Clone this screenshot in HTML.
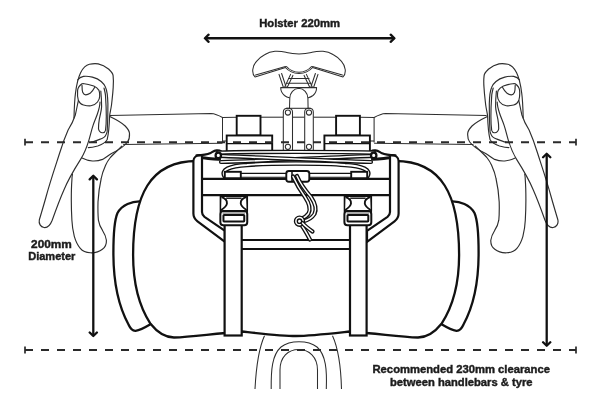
<!DOCTYPE html>
<html><head><meta charset="utf-8"><title>Holster</title>
<style>html,body{margin:0;padding:0;background:#fff;width:600px;height:408px;overflow:hidden}svg{display:block}text{font-family:"Liberation Sans",sans-serif}</style>
</head><body><svg width="600" height="408" viewBox="0 0 600 408"><g fill="none" stroke="#2e2e2e" stroke-width="1.15" stroke-linecap="round" stroke-linejoin="round"><path d="M74 118 C74.2 110 74.5 100 75.5 93 C76.5 85 78 78 80.6 72.7 C83 68 86 65 89.4 64.3 C93 63.5 96 63.5 98.2 63.9 C103 65 106 67 108.5 69 C111 71.5 112.8 73 113.1 75.6 C113.6 80 113.4 85 113.2 87.4 C112.8 95 112 100 111.5 105 C110.8 110 109.8 113 109.6 116.2 C109.3 126 108.5 134 107.1 139.8 C105 143 101 145 97.7 146 C94 147 91 147.6 88.3 147.6"/><path d="M77.6 80 C79 78 81 76.8 83.5 76.4 C86 76 89 76.3 92.4 77.1 C96 78 99 79.5 101.2 81.5 C103.5 83.5 105 85.5 105.6 87.4 C106.8 90 107.7 96 107.9 103.7 C107.9 113 107.6 125 107.1 131.9 C106 136 104.5 137.5 102.4 138.2 C99 139.5 95 141.5 91.4 142.1"/><path d="M82 83.7 C79.5 85.5 77.8 88 77.6 90.4 C77.3 94 77.6 98 78.4 100.6 C79.5 103 81 104.5 83.5 105 C86 105.6 88.5 106 90.9 105.8 C93.5 105.3 96 104 97.5 102 C99 100 99.7 98 99.7 96.2 C99.8 93.5 99.5 91.5 99 90.4 C97.5 88 96 87 93.8 86 C90 84.8 87 84 84.3 83.7 C83.5 83.6 82.7 83.6 82 83.7 Z"/><path d="M82 85.2 C82 88 82.2 91 82.8 92.6 C83.5 94 84.5 94.8 85.7 94.8 C87.5 94.8 89 94 90.1 93.3 C92 91.5 93.5 89.5 94.6 87.4"/><path d="M78.4 100.6 C77.3 105 76.5 110 75.3 115 C73.5 120.5 71 125.5 68.1 130 C65 137 62.3 144.5 60 152 C55.5 166 50 182 46 197 C43.5 206 41 214 39.3 220 C38.6 223.5 40.5 227 44 227.5 C47.5 228 50.5 224.5 52.2 220.2 C55.5 211 59.5 200 63.9 190 C68.5 179 74.5 169 80.6 159.4 C84.5 153 87 146.5 89 139.8 C90.5 135 91.5 130 93 125.6 C94.5 121 96.5 117 97.7 113 C99 109 100 105.5 100 102"/><path d="M104 88 C105 92 105.5 94 105.5 95.8 C106 103 106.3 110 106.3 116.2 C106.3 122 106 127 105.5 130.4 C105 132 104 133 102.4 132.7 C100.5 132.5 99 131 98.5 128.8 C98.5 125 98.8 122 99.3 119.4 C100.5 113 101.6 110 101.6 106.8 C101.6 100 101.2 95 100.8 91"/><path d="M109.8 116.5 C115 119 121 122 125.2 126 C128 129 129.5 131 129.5 133.5 C129.7 137 129 140 127.5 142 C124 146.5 118 150.5 111.5 153.5 C108 155.5 105.5 158 102.6 159.4 C99 160.8 95.5 161.2 92.4 161 C88.5 160.6 85 159.5 82 158"/><path d="M121.8 146.2 C117 151 112.5 155 110 158 C108 160.5 106.8 162.5 105.6 165.3 C103.5 170 102 174 101.2 178.5 C99.5 186 98.5 193 98 202 C97.8 210 98 216 98.4 220.2 C99.2 225 100.5 227.5 102.4 230.2 C104.5 233.5 106 236.5 106.4 240.3 C106.6 244.5 105 247.5 102.4 249.3 C99 252 94.5 253 90.4 252.8 C86 252.5 82.5 251 80.3 248.3 C77 244.5 75.5 240.5 74.3 236.3 C72.8 230 72.1 225 71.9 220.2 C71.5 213 71.3 206 71.3 200.1 C71.3 192 71.5 185 71.9 180 C72 177 72.2 175.5 72.5 174"/></g><g fill="none" stroke="#2e2e2e" stroke-width="1.15" stroke-linecap="round" stroke-linejoin="round"><path d="M 523.2 118 C 523 110 522.7 100 521.7 93 C 520.7 85 519.2 78 516.6 72.7 C 514.2 68 511.2 65 507.8 64.3 C 504.2 63.5 501.2 63.5 499 63.9 C 494.2 65 491.2 67 488.7 69 C 486.2 71.5 484.4 73 484.1 75.6 C 483.6 80 483.8 85 484 87.4 C 484.4 95 485.2 100 485.7 105 C 486.4 110 487.4 113 487.6 116.2 C 487.9 126 488.7 134 490.1 139.8 C 492.2 143 496.2 145 499.5 146 C 503.2 147 506.2 147.6 508.9 147.6"/><path d="M 519.6 80 C 518.2 78 516.2 76.8 513.7 76.4 C 511.2 76 508.2 76.3 504.8 77.1 C 501.2 78 498.2 79.5 496 81.5 C 493.7 83.5 492.2 85.5 491.6 87.4 C 490.4 90 489.5 96 489.3 103.7 C 489.3 113 489.6 125 490.1 131.9 C 491.2 136 492.7 137.5 494.8 138.2 C 498.2 139.5 502.2 141.5 505.8 142.1"/><path d="M 515.2 83.7 C 517.7 85.5 519.4 88 519.6 90.4 C 519.9 94 519.6 98 518.8 100.6 C 517.7 103 516.2 104.5 513.7 105 C 511.2 105.6 508.7 106 506.3 105.8 C 503.7 105.3 501.2 104 499.7 102 C 498.2 100 497.5 98 497.5 96.2 C 497.4 93.5 497.7 91.5 498.2 90.4 C 499.7 88 501.2 87 503.4 86 C 507.2 84.8 510.2 84 512.9 83.7 C 513.7 83.6 514.5 83.6 515.2 83.7 Z"/><path d="M 515.2 85.2 C 515.2 88 515 91 514.4 92.6 C 513.7 94 512.7 94.8 511.5 94.8 C 509.7 94.8 508.2 94 507.1 93.3 C 505.2 91.5 503.7 89.5 502.6 87.4"/><path d="M 518.8 100.6 C 519.9 105 520.7 110 521.9 115 C 523.7 120.5 526.2 125.5 529.1 130 C 532.2 137 534.9 144.5 537.2 152 C 541.7 166 547.2 182 551.2 197 C 553.7 206 556.2 214 557.9 220 C 558.6 223.5 556.7 227 553.2 227.5 C 549.7 228 546.7 224.5 545 220.2 C 541.7 211 537.7 200 533.3 190 C 528.7 179 522.7 169 516.6 159.4 C 512.7 153 510.2 146.5 508.2 139.8 C 506.7 135 505.7 130 504.2 125.6 C 502.7 121 500.7 117 499.5 113 C 498.2 109 497.2 105.5 497.2 102"/><path d="M 493.2 88 C 492.2 92 491.7 94 491.7 95.8 C 491.2 103 490.9 110 490.9 116.2 C 490.9 122 491.2 127 491.7 130.4 C 492.2 132 493.2 133 494.8 132.7 C 496.7 132.5 498.2 131 498.7 128.8 C 498.7 125 498.4 122 497.9 119.4 C 496.7 113 495.6 110 495.6 106.8 C 495.6 100 496 95 496.4 91"/><path d="M 487.4 116.5 C 482.2 119 476.2 122 472 126 C 469.2 129 467.7 131 467.7 133.5 C 467.5 137 468.2 140 469.7 142 C 473.2 146.5 479.2 150.5 485.7 153.5 C 489.2 155.5 491.7 158 494.6 159.4 C 498.2 160.8 501.7 161.2 504.8 161 C 508.7 160.6 512.2 159.5 515.2 158"/><path d="M 475.4 146.2 C 480.2 151 484.7 155 487.2 158 C 489.2 160.5 490.4 162.5 491.6 165.3 C 493.7 170 495.2 174 496 178.5 C 497.7 186 498.7 193 499.2 202 C 499.4 210 499.2 216 498.8 220.2 C 498 225 496.7 227.5 494.8 230.2 C 492.7 233.5 491.2 236.5 490.8 240.3 C 490.6 244.5 492.2 247.5 494.8 249.3 C 498.2 252 502.7 253 506.8 252.8 C 511.2 252.5 514.7 251 516.9 248.3 C 520.2 244.5 521.7 240.5 522.9 236.3 C 524.4 230 525.1 225 525.3 220.2 C 525.7 213 525.9 206 525.9 200.1 C 525.9 192 525.7 185 525.3 180 C 525.2 177 525 175.5 524.7 174"/></g><g fill="none" stroke="#2e2e2e" stroke-width="1.05"><path d="M110 115.5 L211 113.5 C216 113.8 219 115.5 222.5 117.5 L236.7 117.3"/><path d="M 486.6 115.5 L 385.6 113.5 C 380.6 113.8 377.6 115.5 374.1 117.5 L 359.9 117.3"/><path d="M222.5 117.5 L222.5 142.5"/><path d="M 374.1 117.5 L 374.1 142.5"/><path d="M123.2 144.5 L222.5 143.2"/><path d="M 473.4 144.5 L 374.1 143.2"/><path d="M260.5 117.2 L283.3 117.2"/><path d="M 336.1 117.2 L 313.3 117.2"/><path d="M226.7 141 L222.5 141"/><path d="M 369.9 141 L 374.1 141"/><path d="M292.5 117.2 L304.7 117.2"/></g><g fill="#fff" stroke="#2e2e2e" stroke-width="1.05" stroke-linejoin="round" stroke-linecap="round"><path d="M255 77 C253 75 252.5 72 252.8 69.5 C253.2 66 254.5 63.5 256.5 61.3 C259 58.5 262 56 265 54.5 C268 52.5 271 51.5 275 51.3 C279 51.1 283 51.6 286 52.3 C289 53 292 53.8 299 54 L299.0 54.0 C306.0 53.8 309.0 53.0 312.0 52.3 C315.0 51.6 319.0 51.1 323.0 51.3 C327.0 51.5 330.0 52.5 333.0 54.5 C336.0 56.0 339.0 58.5 341.5 61.3 C343.5 63.5 344.8 66.0 345.2 69.5 C345.5 72.0 345.0 75.0 343.0 77.0 L312.5 67.5 C309.5 71 305.5 73.4 299 73.6 C292.5 73.4 288.5 71 285.5 67.5 Z"/><path d="M255.6 75.1 L285.5 66.6 M342.4 75.1 L312.5 66.6" fill="none"/><path d="M286.5 66.5 C289.5 70 293 72.1 299 72.3 C305 72.1 308.5 70 311.5 66.5" fill="none"/><path d="M279 74.4 L283.6 88" fill="none"/><path d="M 318 74.4 L 313.4 88" fill="none"/><path d="M281.6 73.5 L286.4 87.8" fill="none"/><path d="M 315.4 73.5 L 310.6 87.8" fill="none"/><path d="M290.6 74.4 L284.4 87.6" fill="none"/><path d="M 306.4 74.4 L 312.6 87.6" fill="none"/><path d="M292.9 75.4 L286.8 88.2" fill="none"/><path d="M 304.1 75.4 L 310.2 88.2" fill="none"/><path d="M288.5 78.5 L309 78.5 M286.5 83.2 L311 83.2 M283 87.6 L314 87.6" fill="none"/><path d="M280.7 87.6 L316.6 87.6 C316.6 91 315.5 93.5 313 95.5 C311 97 309.5 97.5 308.3 97.8 L289.3 97.8 C288 97.5 286.5 97 284.5 95.5 C282 93.5 280.7 91 280.7 87.6 Z"/><path d="M289.5 108.5 L289.8 98 C290 93 293.5 88.5 298.9 88.3 C304 88.5 307.6 93 307.9 98 L308.1 108.5"/></g><g fill="#fff" stroke="#2e2e2e" stroke-width="1.05"><path d="M283.3 152 L283.3 112 C283.3 109.5 284.8 108.3 287.9 108.3 C291.0 108.3 292.5 109.5 292.5 112 L292.5 152"/><circle cx="287.9" cy="112.5" r="2.6"/><circle cx="287.9" cy="146.8" r="2.6"/><path d="M304.7 152 L304.7 112 C304.7 109.5 306.2 108.3 309.0 108.3 C311.8 108.3 313.3 109.5 313.3 112 L313.3 152"/><circle cx="309.0" cy="112.5" r="2.6"/><circle cx="309.0" cy="146.8" r="2.6"/><path d="M286 108.3 L310.8 108.3" fill="none"/></g><g fill="#fff" stroke="#111" stroke-width="1.9"><rect x="236.7" y="115.8" width="23.80000000000001" height="19.700000000000003"/><rect x="336.1" y="115.8" width="23.80000000000001" height="19.700000000000003"/><rect x="226.7" y="135.5" width="45.5" height="16.19999999999999"/><rect x="324.40000000000003" y="135.5" width="45.5" height="16.19999999999999"/><path d="M226.7 143.7 L272.2 143.7 M324.4 143.7 L369.9 143.7" fill="none" stroke-width="1.3"/></g><g stroke="#2a2a2a" stroke-width="2" fill="none"><path d="M25 142.2 L576 142.2" stroke-dasharray="8 8"/><path d="M25 138.79999999999998 L25 145.6 M576 138.79999999999998 L576 145.6" stroke-width="1.7"/><path d="M25 350 L576 350" stroke-dasharray="8 8"/><path d="M25 346.6 L25 353.4 M576 346.6 L576 353.4" stroke-width="1.7"/></g><g fill="#fff" stroke="#111" stroke-width="2.3" stroke-linejoin="round" stroke-linecap="round"><path d="M141 201.5 C132 201 122 205 117.5 213 C114 221 113.3 235 113.4 255 C113.6 285 119 307 128.5 324.5 C130.5 329 132.5 331 135.5 330.8 C139.5 330.2 145 327.5 150 324.5"/><path d="M 451 201.5 C 460 201 470 205 474.5 213 C 478 221 478.7 235 478.6 255 C 478.4 285 473 307 463.5 324.5 C 461.5 329 459.5 331 456.5 330.8 C 452.5 330.2 447 327.5 442 324.5"/><path d="M197 161 C150 161 133.1 195 133.1 255 C133.1 283 139.5 307 150.5 323.8 C157 332 164 337.5 174 337.5 C192 337 210 334 242 331.5 C265 334 282 336 296 336 C310 336 327 334 350 331.5 C382 334 400 337 418 337.5 C428 337.5 435 332 441.5 323.8 C452.5 307 459.1 283 459.1 255 C459.1 195 442 161 395 161 Z" stroke="none"/><path d="M197 161 C150 161 133.1 195 133.1 255 C133.1 283 139.5 307 150.5 323.8 C157 332 164 337.5 174 337.5 C192 337 210 334 242 331.5 C265 334 282 336 296 336 C310 336 327 334 350 331.5 C382 334 400 337 418 337.5 C428 337.5 435 332 441.5 323.8 C452.5 307 459.1 283 459.1 255 C459.1 195 442 161 395 161" fill="none"/></g><g fill="#fff" stroke="#111" stroke-width="2.2" stroke-linejoin="round"><path d="M225 241.8 L197.5 221.3 C194.5 219 193.4 217 193.4 213.5 L193.4 161 C193.4 157.5 196.4 155.2 200.4 155.2 L202 155.2 L202 212 C202 214.5 202.8 215.5 204.5 216.8 L225 230.8 Z"/><path d="M 367 241.8 L 394.5 221.3 C 397.5 219 398.6 217 398.6 213.5 L 398.6 161 C 398.6 157.5 395.6 155.2 391.6 155.2 L 390 155.2 L 390 212 C 390 214.5 389.2 215.5 387.5 216.8 L 367 230.8 Z"/></g><g fill="none" stroke="#111" stroke-width="2.2"><path d="M202 178.8 L390 178.8 M202 195.1 L390 195.1"/><path d="M242 240 L350 240 M242 249 L350 249"/></g><g fill="#fff" stroke="#111" stroke-width="2.2"><rect x="224.6" y="222" width="17.1" height="113.5"/><rect x="350" y="222" width="16.6" height="113.5"/></g><g fill="#fff" stroke="#111" stroke-width="2" stroke-linejoin="round"><path d="M220.65 196 L247.04999999999998 196 L247.04999999999998 211.6 L220.65 211.6 Z"/><path d="M221.65 197.2 C225.65 198.5 227.15 201 226.95000000000002 203.5 C226.65 206 224.15 208 221.15 210" fill="#fff" stroke-width="1.9"/><path d="M 246.05 197.2 C 242.05 198.5 240.55 201 240.75 203.5 C 241.05 206 243.55 208 246.55 210" fill="#fff" stroke-width="1.9"/><path d="M226.15 198.2 L241.54999999999998 198.2" stroke-width="1.4"/><rect x="220.35" y="210.9" width="26.9" height="14.4" rx="3"/><path d="M222.65 213 L245.04999999999998 213" stroke-width="1" stroke="#555"/><rect x="223.45" y="215" width="20.8" height="6.4" rx="0.6"/></g><g fill="#fff" stroke="#111" stroke-width="2" stroke-linejoin="round"><path d="M344.7 196 L371.09999999999997 196 L371.09999999999997 211.6 L344.7 211.6 Z"/><path d="M345.7 197.2 C349.7 198.5 351.2 201 351.0 203.5 C350.7 206 348.2 208 345.2 210" fill="#fff" stroke-width="1.9"/><path d="M 370.1 197.2 C 366.1 198.5 364.6 201 364.8 203.5 C 365.1 206 367.6 208 370.6 210" fill="#fff" stroke-width="1.9"/><path d="M350.2 198.2 L365.59999999999997 198.2" stroke-width="1.4"/><rect x="344.4" y="210.9" width="26.9" height="14.4" rx="3"/><path d="M346.7 213 L369.09999999999997 213" stroke-width="1" stroke="#555"/><rect x="347.5" y="215" width="20.8" height="6.4" rx="0.6"/></g><path d="M196.5 155.3 C203 155.2 207 154.8 210 153.3 C212.5 152 214 150.6 216.5 150.3 C219.5 150 221.8 151.5 222.2 153.5" fill="none" stroke="#111" stroke-width="2.2" stroke-linecap="round"/><path d="M 395.5 155.3 C 389 155.2 385 154.8 382 153.3 C 379.5 152 378 150.6 375.5 150.3 C 372.5 150 370.2 151.5 369.8 153.5" fill="none" stroke="#111" stroke-width="2.2" stroke-linecap="round"/><path d="M202.5 157.8 C209 158.4 214 159.4 219.5 159.2" fill="none" stroke="#111" stroke-width="3.0" stroke-linecap="round"/><path d="M 389.5 157.8 C 383 158.4 378 159.4 372.5 159.2" fill="none" stroke="#111" stroke-width="3.0" stroke-linecap="round"/><path d="M224.5 176 C221 170 229 166 247 165 C267 163 325 163 345 165 C363 166 371 170 367.5 176" fill="none" stroke="#111" stroke-width="4.6" stroke-linecap="round"/><path d="M224.5 176 C221 170 229 166 247 165 C267 163 325 163 345 165 C363 166 371 170 367.5 176" fill="none" stroke="#fff" stroke-width="1.8" stroke-linecap="round"/><path d="M373 155.8 C340 157 260 161 221 162" fill="none" stroke="#111" stroke-width="4.2" stroke-linecap="round"/><path d="M373 155.8 C340 157 260 161 221 162" fill="none" stroke="#fff" stroke-width="1.6" stroke-linecap="round"/><path d="M219 155.8 C252 157 332 161 371 162" fill="none" stroke="#111" stroke-width="4.2" stroke-linecap="round"/><path d="M219 155.8 C252 157 332 161 371 162" fill="none" stroke="#fff" stroke-width="1.6" stroke-linecap="round"/><path d="M218 152.6 C250 151.6 342 151.6 374 152.6" fill="none" stroke="#111" stroke-width="4.4" stroke-linecap="round"/><path d="M218 152.6 C250 151.6 342 151.6 374 152.6" fill="none" stroke="#fff" stroke-width="1.6" stroke-linecap="round"/><path d="M241 175.3 L287 175.3" fill="none" stroke="#111" stroke-width="5.0" stroke-linecap="round"/><path d="M241 175.3 L287 175.3" fill="none" stroke="#fff" stroke-width="2.8" stroke-linecap="round"/><path d="M309 175.3 L351 175.3" fill="none" stroke="#111" stroke-width="5.0" stroke-linecap="round"/><path d="M309 175.3 L351 175.3" fill="none" stroke="#fff" stroke-width="2.8" stroke-linecap="round"/><circle cx="218.3" cy="155.4" r="2.7" fill="#fff" stroke="#111" stroke-width="2.3"/><circle cx="373.7" cy="155.4" r="2.7" fill="#fff" stroke="#111" stroke-width="2.3"/><g fill="#fff" stroke="#111" stroke-width="1.9"><rect x="224.8" y="171.8" width="16" height="6.4"/><rect x="351.2" y="171.8" width="16" height="6.4"/><rect x="286.3" y="171" width="23" height="10.7" rx="2.5"/><path d="M292 171.5 L292 181.2" stroke-width="1.5"/></g><path d="M302 226 C305 230 307.5 235 310 239.5" fill="none" stroke="#111" stroke-width="4.2" stroke-linecap="round"/><path d="M302 226 C305 230 307.5 235 310 239.5" fill="none" stroke="#fff" stroke-width="1.5" stroke-linecap="round"/><path d="M293 176.5 C296 183 300 190 305 197 C309 203 311 209 308.5 213.5 C306.5 216.5 304 218 301 219" fill="none" stroke="#111" stroke-width="4.2" stroke-linecap="round"/><path d="M293 176.5 C296 183 300 190 305 197 C309 203 311 209 308.5 213.5 C306.5 216.5 304 218 301 219" fill="none" stroke="#fff" stroke-width="1.5" stroke-linecap="round"/><path d="M297 176 C300 183 305 190 311 197 C315 203 317 209 314.5 214 C312 218 307 220.5 303 221.5" fill="none" stroke="#111" stroke-width="4.2" stroke-linecap="round"/><path d="M297 176 C300 183 305 190 311 197 C315 203 317 209 314.5 214 C312 218 307 220.5 303 221.5" fill="none" stroke="#fff" stroke-width="1.5" stroke-linecap="round"/><circle cx="299.5" cy="221.2" r="3.6" fill="#fff" stroke="#111" stroke-width="4.2"/><circle cx="299.5" cy="221.2" r="3.6" fill="none" stroke="#fff" stroke-width="1.5"/><path d="M302.5 223 C305.5 226.5 309 229 312.5 231.5" fill="none" stroke="#111" stroke-width="4.2" stroke-linecap="round"/><path d="M302.5 223 C305.5 226.5 309 229 312.5 231.5" fill="none" stroke="#fff" stroke-width="1.5" stroke-linecap="round"/><g fill="none" stroke="#2e2e2e" stroke-width="1.05"><path d="M264.5 335.8 C258 350 256 370 255 389"/><path d="M332.5 335.8 C339 350 341 370 341.5 389"/><path d="M271.2 389 C271 370 272 355 281 347 C290 340 308 340 317 347 C326 355 327 370 326.3 389"/><path d="M280 389 L280 370 C280 357 288 349.5 298.8 349.5 C309 349.5 317.5 357 317.5 370 L317.5 389"/></g><g fill="none" stroke="#111" stroke-width="2.3" stroke-linecap="round" stroke-linejoin="round"><path d="M205 38.25 L394.4 38.25" stroke-linecap="butt"/><path d="M208.6 34.7 L204.9 38.25 L208.6 41.8 M390.7 34.7 L394.4 38.25 L390.7 41.8"/><path d="M93.3 176 L93.3 335.8" stroke-linecap="butt"/><path d="M89.7 179.4 L93.3 175.7 L96.9 179.4 M89.7 332.5 L93.3 336 L96.9 332.5"/><path d="M546.7 154 L546.7 345.5" stroke-linecap="butt"/><path d="M543.1 157.3 L546.7 153.75 L550.3 157.3 M543.1 342.2 L546.7 345.7 L550.3 342.2"/></g><g style="will-change:transform" fill="#1c1c1c" font-family="Liberation Sans, sans-serif" font-weight="bold" font-size="10.5" stroke="#1c1c1c" stroke-width="0.4"><text x="259.2" y="26.9" textLength="80.8" lengthAdjust="spacingAndGlyphs">Holster 220mm</text><text x="31.1" y="247.5" textLength="40.8" lengthAdjust="spacingAndGlyphs">200mm</text><text x="28.2" y="260" textLength="47.2" lengthAdjust="spacingAndGlyphs">Diameter</text><text x="372.5" y="373.1" textLength="177.5" lengthAdjust="spacingAndGlyphs">Recommended 230mm clearance</text><text x="390" y="385.7" textLength="142.5" lengthAdjust="spacingAndGlyphs">between handlebars &amp; tyre</text></g></svg></body></html>
